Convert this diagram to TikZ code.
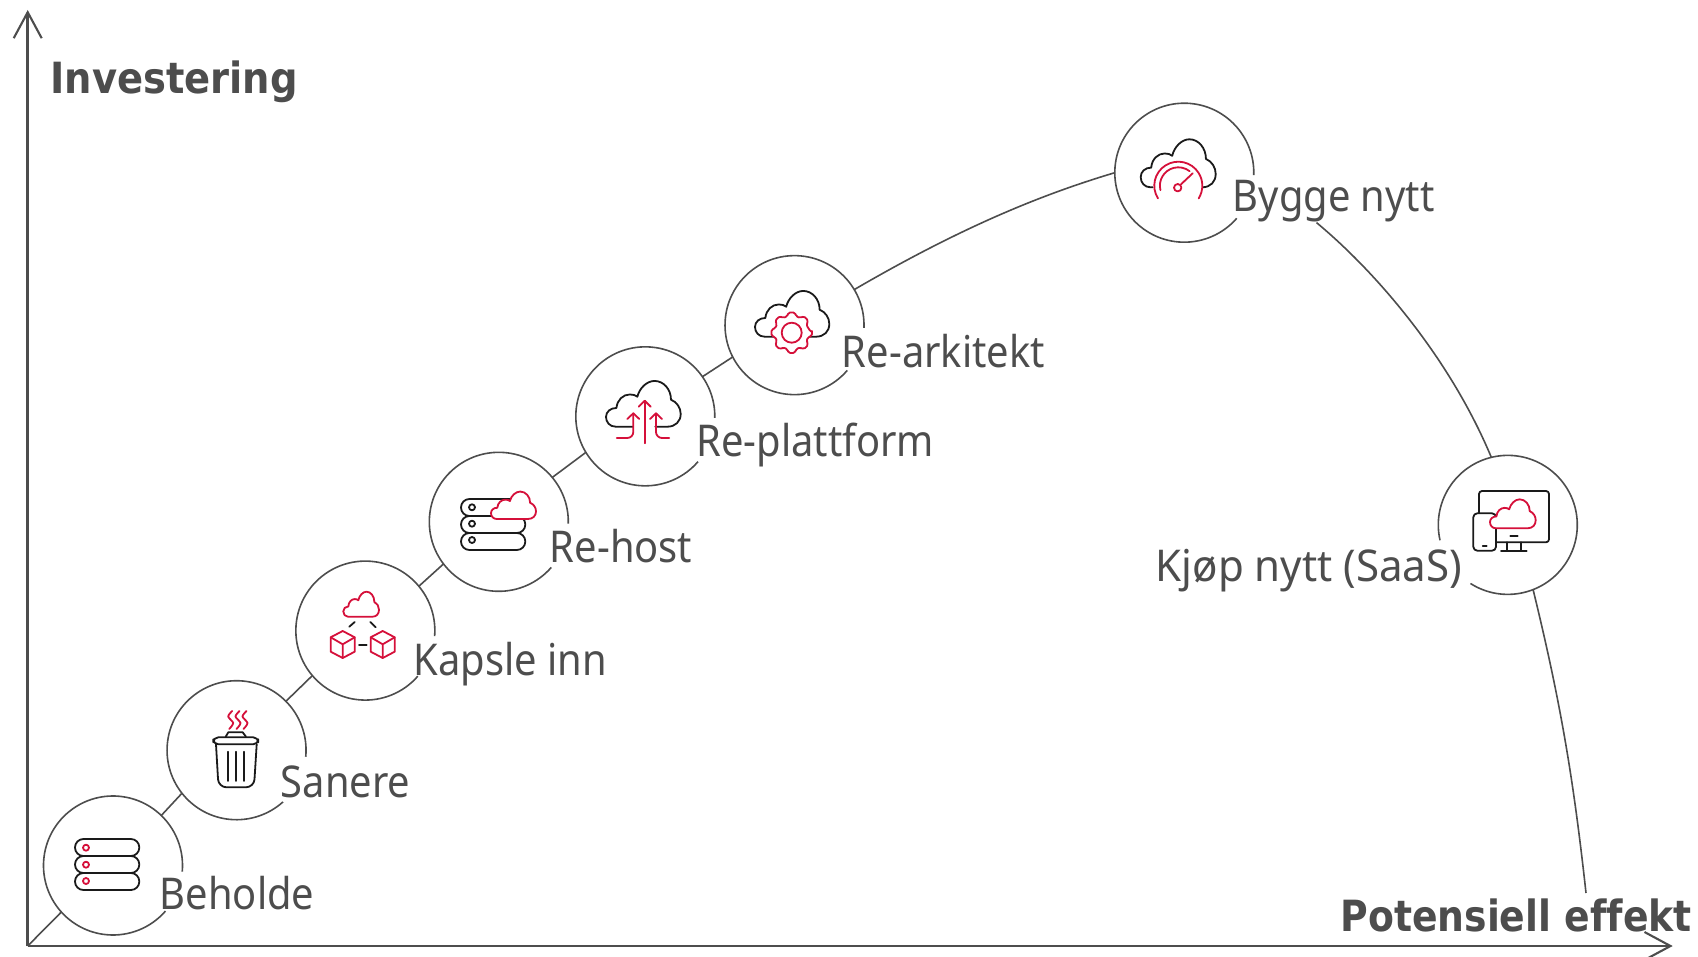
\documentclass[tikz,border=0pt]{standalone}
\usepackage{fontspec}
\usetikzlibrary{arrows.meta}
\setmainfont{Noto Sans}
\newfontfamily\lblfont{Noto Sans}[FakeStretch=0.91,Ligatures=NoCommon]
\newfontfamily\kjofont{Noto Sans}[FakeStretch=0.96,Ligatures=NoCommon]
\newfontfamily\hdfont{DejaVu Sans}[FakeStretch=0.895,Ligatures=NoCommon]
\newfontfamily\potfont{DejaVu Sans}[FakeStretch=0.878,Ligatures=NoCommon]
\definecolor{ink}{HTML}{4D4D4D}
\definecolor{ico}{HTML}{1A1A1A}
\definecolor{rd}{HTML}{D5103A}
\tikzset{
  bub/.style={circle,minimum size=69.5pt,inner sep=0pt,outer sep=0pt},
  ring/.style={draw=ink,line width=.8pt},
  conn/.style={draw=ink,line width=.8pt},
  axisline/.style={draw=ink,line width=1.25pt,-{Straight Barb[length=13pt,width=14pt,line width=1.05pt]}},
  lbl/.style={anchor=base west,inner sep=0pt,text=ink,font=\lblfont\fontsize{21.9}{26}\selectfont},
  hd/.style={anchor=base west,inner sep=0pt,text=ink,font=\hdfont\bfseries\fontsize{21.5}{26}\selectfont},
  blk/.style={draw=ico,line width=.9pt,line cap=round,line join=round},
  redl/.style={draw=rd,line width=.9pt,line cap=round,line join=round},
}
% cloud outline, local units, y up, without its bottom edge
\newcommand{\cloudarc}{(.13,0) .. controls (.05,0) and (0,.06) .. (0,.13)
 .. controls (0,.2) and (.06,.25) .. (.14,.25)
 .. controls (.15,.36) and (.23,.43) .. (.32,.43)
 .. controls (.36,.43) and (.4,.42) .. (.42,.40)
 .. controls (.45,.52) and (.55,.61) .. (.65,.61)
 .. controls (.77,.61) and (.87,.5) .. (.87,.36)
 .. controls (.95,.33) and (1,.25) .. (1,.17)
 .. controls (1,.07) and (.93,0) .. (.82,0)}
\newcommand{\serverstack}[2]{% x, y of top-left
  \begin{scope}[shift={(#1,#2)}]
    \foreach \r in {0,17,34}{\draw[blk,rounded corners=4.2pt] (0,\r) rectangle (64.3,\r+17);}
  \end{scope}}
\newcommand{\cube}[1]{%
  \begin{scope}[shift={(#1,644.3)}]
    \draw[redl] (0,-13.3) -- (12,-7) -- (12,7.4) -- (0,13.7) -- (-12,7.4) -- (-12,-7) -- cycle;
    \draw[redl] (-12,-7) -- (0,0) -- (12,-7) (0,0) -- (0,13.7);
  \end{scope}}
\begin{document}
\begin{tikzpicture}[x=.5pt,y=-.5pt]
\useasboundingbox (0,0) rectangle (1698,957);
% anchors of the axes
\coordinate (o) at (27.7,946);
\coordinate (ytip) at (27.7,10);
\coordinate (xtip) at (1672.7,946);
\coordinate (kend) at (1586,893);
% bubbles
\node[bub] (beh) at (113,865.5) {};
\node[bub] (san) at (236.5,750.7) {};
\node[bub] (kap) at (365.3,631.2) {};
\node[bub] (rho) at (498.8,522.3) {};
\node[bub] (rpl) at (645.3,416.7) {};
\node[bub] (rar) at (794.5,325.5) {};
\node[bub] (byg) at (1184.3,172.7) {};
\node[bub] (kjo) at (1508.3,525.2) {};
% connectors
\draw[conn] (o) -- (beh.222);
\draw[conn] (beh.46.8) -- (san.218.9);
\draw[conn] (san.45.7) -- (kap.220.7);
\draw[conn] (kap.40.6) -- (rho.217.6);
\draw[conn] (rho.40.8) -- (rpl.211.3);
\draw[conn] (rpl.35.7) -- (rar.207.8);
\draw[conn] (rar.31.6) .. controls (960,228) and (1040,195) .. (byg.180);
\draw[conn] (kjo.-69.4) .. controls (1560,700) and (1573,775) .. (kend);
% rings, open where the label sits
\draw[ring] (beh.-5) arc[start angle=-5,end angle=319,radius=34.75pt];
\draw[ring] (san.-5.4) arc[start angle=-5.4,end angle=312,radius=34.75pt];
\draw[ring] (kap.-4.5) arc[start angle=-4.5,end angle=319,radius=34.75pt];
\draw[ring] (rho.-1.4) arc[start angle=-1.4,end angle=319,radius=34.75pt];
\draw[ring] (rpl.-1.3) arc[start angle=-1.3,end angle=319.3,radius=34.75pt];
\draw[ring] (rar.-2.3) arc[start angle=-2.3,end angle=319.4,radius=34.75pt];
\draw[ring] (byg.-2) arc[start angle=-2,end angle=319,radius=34.75pt];
\draw[ring] (kjo.237.5) arc[start angle=237.5,end angle=552.8,radius=34.75pt];
% labels
\node[lbl] (lbeh) at (159.5,909) {Beholde};
\node[lbl] (lsan) at (280.5,797.7) {Sanere};
\node[lbl] (lkap) at (413.5,675.3) {Kapsle inn};
\node[lbl] (lrho) at (549.5,562.7) {Re-host};
\node[lbl] (lrpl) at (696,456) {Re-plattform};
\node[lbl] (lrar) at (841.5,367.7) {Re-arkitekt};
\node[lbl] (lbyg) at (1232.5,211.7) {Bygge nytt};
\node[lbl,font=\kjofont\fontsize{21.9}{26}\selectfont] (lkjo) at (1155.5,581) {Kjøp nytt (SaaS)};
\node[hd] (linv) at (50,93.8) {Investering};
\node[hd,font=\potfont\bfseries\fontsize{21.5}{26}\selectfont] (lpot) at (1340,931) {Potensiell effekt};
% connector that leaves from under the label of Bygge nytt
\draw[conn] ([xshift=42pt]lbyg.south west) .. controls (1376,272) and (1450,358) .. (kjo.104);
% axes
\draw[axisline] (o) -- (ytip);
\draw[axisline] (o) -- (xtip);
% icon: Beholde
\serverstack{75}{839}
\foreach \yy in {847.7,864.7,881}{\draw[redl] (86,\yy) circle[radius=3];}
% icon: Sanere
\draw[blk,rounded corners=2.5pt] (213.3,737.3) rectangle (258.3,744.3);
\draw[blk] (225.7,736.7) -- (228.3,732.3) -- (242.7,732.3) -- (246,736.7);
\draw[blk,rounded corners=4pt] (216,744.3) -- (218.5,787.3) -- (254,787.3) -- (256.7,744.3);
\foreach \xx in {227.7,236,244.3}{\draw[blk] (\xx,751.7) -- (\xx,781);}
\foreach \xx in {230.7,238,245}{\draw[redl] plot[smooth] coordinates {(\xx+1.5,711) (\xx-2.5,716.5) (\xx+2.5,723) (\xx-1.5,729)};}
% icon: Kapsle inn
\begin{scope}[shift={(343.3,616.7)},xscale=35.7,yscale=-41]
  \draw[redl] \cloudarc -- cycle;
\end{scope}
\draw[blk] (349.3,626.7) -- (354.7,622);
\draw[blk] (370.3,622) -- (375.7,627.3);
\draw[blk] (359,645) -- (366.7,645);
\cube{342.7}
\cube{382.7}
% icon: Re-host
\serverstack{461}{499}
\foreach \yy in {507.3,523.7,540}{\draw[blk] (472,\yy) circle[radius=3];}
\begin{scope}[shift={(491,519)},xscale=45,yscale=-45]
  \draw[redl,fill=white] \cloudarc -- cycle;
\end{scope}
% icon: Re-plattform
\begin{scope}[shift={(606,426.7)},xscale=74.7,yscale=-75]
  \draw[blk] (.36,0) -- \cloudarc -- (.66,0);
\end{scope}
\draw[redl] (644.7,443.3) -- (644.7,400.7);
\draw[redl] (638.7,406.7) -- (644.7,400.7) -- (650.7,406.7);
\draw[redl,rounded corners=3pt] (616.7,438) -- (633.3,438) -- (633.3,413.3);
\draw[redl] (627.3,419) -- (633.3,413.3) -- (639.3,419);
\draw[redl,rounded corners=3pt] (669.3,438) -- (656,438) -- (656,413.3);
\draw[redl] (650,419) -- (656,413.3) -- (662,419);
% icon: Re-arkitekt
\begin{scope}[shift={(755,336.7)},xscale=74.3,yscale=-75]
  \draw[blk] \cloudarc -- cycle;
\end{scope}
\begin{scope}[shift={(791.7,332.7)}]
  \draw[redl,fill=white,rounded corners=.8pt]
    (0:20.5) \foreach \a in {0,45,...,315}{
      -- (\a-9:20.5) -- (\a+9:20.5) -- (\a+15:17) -- (\a+30:17) } -- cycle;
  \draw[redl] (0,0) circle[radius=10];
\end{scope}
% icon: Bygge nytt
\begin{scope}[shift={(1140.7,187.3)},xscale=75,yscale=-78.7]
  \draw[blk] (.16,0) -- \cloudarc -- (.8,0);
\end{scope}
\coordinate (gc) at (1178.3,185.7);
\draw[redl,fill=white] (gc) ++(212:12pt) arc[start angle=212,end angle=-32,radius=12pt];
\draw[redl] (gc) ++(194:9.2pt) arc[start angle=194,end angle=52,radius=9.2pt];
\draw[redl] (1177.7,187.7) circle[radius=3.7];
\draw[redl] (1181,184.3) -- (1192.7,173.3);
% icon: Kjop nytt
\draw[blk,rounded corners=1.5pt] (1479,513.3) -- (1479,491) -- (1549,491) -- (1549,542.3) -- (1496,542.3);
\draw[blk,rounded corners=2pt] (1473.3,513.3) rectangle (1496,550.7);
\draw[blk] (1482.7,546) -- (1486.7,546);
\draw[blk] (1510.3,536.3) -- (1517.7,536.3);
\draw[blk] (1506.7,542.3) -- (1506.7,550.7);
\draw[blk] (1520.7,542.3) -- (1520.7,550.7);
\draw[blk] (1501,550.7) -- (1526.7,550.7);
\begin{scope}[shift={(1490,528.3)},xscale=45.7,yscale=-47.5]
  \draw[redl,fill=white] \cloudarc -- cycle;
\end{scope}
\end{tikzpicture}
\end{document}
